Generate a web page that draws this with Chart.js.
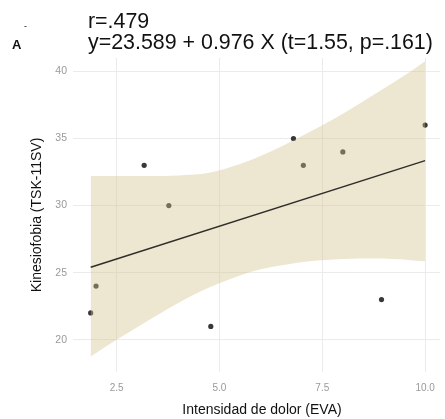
<!DOCTYPE html>
<html>
<head>
<meta charset="utf-8">
<script src="https://cdn.jsdelivr.net/npm/chart.js@4/dist/chart.umd.min.js"></script>
<style>
body { margin: 0; background: #fff; }
</style>
</head>
<body>
<canvas id="grafico" width="445" height="419"></canvas>
<script>
// datos
const puntosX = [1.87, 2.0, 3.17, 3.77, 4.79, 6.8, 7.04, 8.0, 8.94, 10.0];
const puntosY = [22, 24, 33, 30, 21, 35, 33, 34, 23, 36];
const rectaX = [1.87, 10.0];
const rectaY = [25.41, 33.35];
const bandaX = [1.87, 2.5, 3.3, 4.0, 4.75, 5.5, 6.0, 6.6, 7.2, 7.6, 8.0, 8.8, 9.6, 10.0];
const bandaSup = [32.2, 32.2, 32.2, 32.25, 32.45, 33.1, 33.7, 34.55, 35.5, 36.15, 36.85, 38.35, 39.9, 40.75];
const bandaInf = [18.75, 20.0, 21.5, 22.75, 23.9, 24.8, 25.25, 25.6, 25.85, 25.95, 26.02, 26.05, 25.95, 25.85];
const ticksX = [2.5, 5, 7.5, 10];
const ticksY = [20, 25, 30, 35, 40];
const titulo1 = "r=.479";
const titulo2 = "y=23.589 + 0.976 X (t=1.55, p=.161)";
const letraPanel = "A";
const tituloX = "Intensidad de dolor (EVA)";
const tituloY = "Kinesiofobia (TSK-11SV)";

Chart.defaults.font.family = "'Liberation Sans', Arial, sans-serif";

function pares(xs, ys) {
  return xs.map((x, i) => ({ x: x, y: ys[i] }));
}

const textos = {
  id: 'textos',
  afterDraw(chart) {
    const ctx = chart.ctx;
    const area = chart.chartArea;
    ctx.save();
    ctx.fillStyle = '#111';
    ctx.textAlign = 'left';
    ctx.textBaseline = 'alphabetic';
    ctx.font = "21.4px 'Liberation Sans'";
    ctx.fillText(titulo1, 88, 28);
    ctx.fillText(titulo2, 88, 49);
    ctx.font = "bold 13px 'Liberation Sans'";
    ctx.fillText(letraPanel, 12, 49);
    ctx.font = "9px 'Liberation Sans'";
    ctx.fillText("-", 24, 29);

    ctx.font = "14px 'Liberation Sans'";
    ctx.textAlign = 'center';
    ctx.fillText(tituloX, 262, 414);
    ctx.translate(41, (area.top + area.bottom) / 2);
    ctx.rotate(-Math.PI / 2);
    ctx.fillText(tituloY, 0, 0);
    ctx.restore();
  }
};

const ctx = document.getElementById("grafico").getContext("2d");
const grafico = new Chart(ctx, {
  type: "scatter",
  data: {
    datasets: [
      {
        type: "line",
        data: pares(bandaX, bandaInf),
        borderWidth: 0,
        pointRadius: 0,
        fill: false,
        cubicInterpolationMode: "monotone",
        order: 3,
      },
      {
        type: "line",
        data: pares(bandaX, bandaSup),
        borderWidth: 0,
        pointRadius: 0,
        fill: "-1",
        backgroundColor: "rgba(210, 196, 140, 0.4)",
        cubicInterpolationMode: "monotone",
        order: 2,
      },
      {
        type: "line",
        data: pares(rectaX, rectaY),
        borderColor: "#2e2e2a",
        borderWidth: 1.5,
        pointRadius: 0,
        fill: false,
        order: 1,
      },
      {
        data: pares(puntosX, puntosY),
        backgroundColor: "#383838",
        borderWidth: 0,
        pointRadius: 2.6,
        order: 4,
      },
    ],
  },
  options: {
    responsive: false,
    animation: false,
    layout: { padding: { top: 58, right: 0, left: 0, bottom: 0 } },
    plugins: {
      legend: { display: false },
      tooltip: { enabled: false },
    },
    scales: {
      x: {
        type: "linear",
        min: 1.44,
        max: 10.36,
        afterFit: scale => { scale.height = 47; },
        afterBuildTicks: scale => { scale.ticks = ticksX.map(v => ({ value: v })); },
        border: { display: false },
        grid: { color: "#ebebeb", lineWidth: 1, drawTicks: false },
        ticks: {
          padding: 10,
          color: "#999999",
          font: { size: 10 },
          callback: v => v.toFixed(1),
        },
      },
      y: {
        type: "linear",
        min: 17.6,
        max: 41,
        afterFit: scale => { scale.width = 73; },
        afterBuildTicks: scale => { scale.ticks = ticksY.map(v => ({ value: v })); },
        border: { display: false },
        grid: { color: "#ebebeb", lineWidth: 1, drawTicks: false },
        ticks: {
          padding: 6,
          color: "#999999",
          font: { size: 10.5 },
        },
      },
    },
  },
  plugins: [textos],
});
</script>
</body>
</html>
